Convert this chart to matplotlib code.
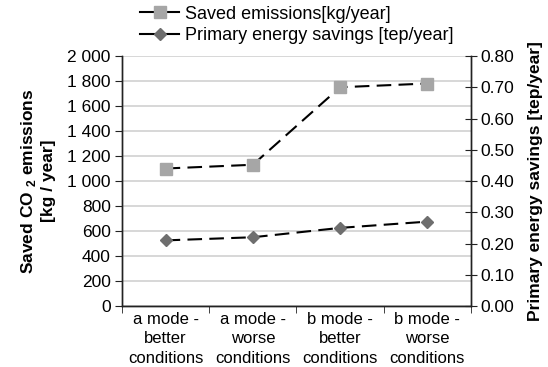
import matplotlib
matplotlib.use("Agg")
import matplotlib.pyplot as plt
from matplotlib.lines import Line2D
import numpy as np

plt.rcParams["font.family"] = ["Liberation Sans", "DejaVu Sans"]
plt.rcParams["mathtext.fontset"] = "custom"
plt.rcParams["mathtext.rm"] = "Liberation Sans:bold"
plt.rcParams["mathtext.bf"] = "Liberation Sans:bold"

categories = ["a mode -\nbetter\nconditions", "a mode -\nworse\nconditions",
              "b mode -\nbetter\nconditions", "b mode -\nworse\nconditions"]
saved_emissions = [1100, 1130, 1750, 1780]          # kg/year
energy_savings = [0.21, 0.22, 0.25, 0.27]           # tep/year
left_ticks = [0, 200, 400, 600, 800, 1000, 1200, 1400, 1600, 1800, 2000]
right_ticks = [0.0, 0.1, 0.2, 0.3, 0.4, 0.5, 0.6, 0.7, 0.8]
series_labels = ["Saved emissions[kg/year]", "Primary energy savings [tep/year]"]

fig = plt.figure(figsize=(5.48, 3.67), dpi=100)
ax = fig.add_axes([0.2226, 0.1662, 0.8595 - 0.2226, 0.8474 - 0.1662])
ax2 = ax.twinx()

x = np.arange(len(categories))
fs = 12.5
dash = (7, 3.5)
sq_style = dict(marker="s", markersize=8.5, markerfacecolor="#a6a6a6",
                markeredgecolor="#a6a6a6")
dm_style = dict(marker="D", markersize=6.5, markerfacecolor="#6e6e6e",
                markeredgecolor="#6e6e6e")

ax.plot(x, saved_emissions, color="black", lw=1.5, dashes=dash, zorder=3, **sq_style)
ax2.plot(x, energy_savings, color="black", lw=1.5, dashes=dash, zorder=3, **dm_style)

ax.set_xlim(-0.5, len(categories) - 0.5)
ax.set_ylim(0, 2000)
ax2.set_ylim(0, 0.8)

ax.set_yticks(left_ticks)
ax.set_yticklabels([f"{v:,}".replace(",", " ") for v in left_ticks], fontsize=fs)
ax2.set_yticks(right_ticks)
ax2.set_yticklabels([f"{v:.2f}" for v in right_ticks], fontsize=fs)

ax.set_xticks(x)
ax.set_xticklabels(categories, fontsize=12, linespacing=1.4)
ax.set_xticks(np.arange(-0.5, len(categories)), minor=True)
ax.tick_params(axis="x", which="major", length=0, pad=4)
ax.tick_params(axis="x", which="minor", length=5, direction="out", color="#222222")
ax.tick_params(axis="y", length=5, direction="out", color="#222222", pad=3)
ax2.tick_params(axis="y", length=8, direction="inout", color="#222222", pad=3)

ax.yaxis.grid(True, color="#d4d4d4", lw=1.3)
ax.set_axisbelow(True)
for a in (ax, ax2):
    a.spines["top"].set_visible(False)
    for s in ("left", "right", "bottom"):
        a.spines[s].set_color("#222222")
        a.spines[s].set_linewidth(1.0)

ax.set_ylabel("Saved CO $_2$ emissions\n[kg / year]", fontsize=fs,
              fontweight="bold", labelpad=8, linespacing=1.3)
ax2.set_ylabel("Primary energy savings [tep/year]", fontsize=fs,
               fontweight="bold", labelpad=10)

handles = [Line2D([], [], color="black", lw=1.5, **sq_style),
           Line2D([], [], color="black", lw=1.5, **dm_style)]
fig.legend(handles, series_labels, loc="upper left", bbox_to_anchor=(0.255, 0.985),
           frameon=False, fontsize=13, borderpad=0, borderaxespad=0,
           handlelength=2.2, handletextpad=0.3, labelspacing=0.25)

fig.savefig("out.png", dpi=100)
